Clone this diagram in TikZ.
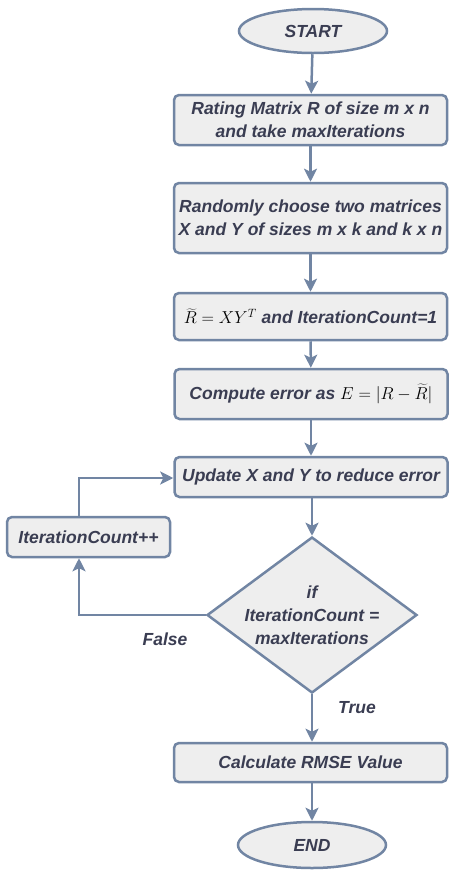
\documentclass[tikz,border=0pt]{standalone}
\usepackage{fontspec}
\setmainfont{Liberation Sans}
\usetikzlibrary{shapes.geometric,arrows.meta}
\definecolor{edge}{HTML}{7185A3}
\definecolor{boxfill}{HTML}{EEEEEE}
\definecolor{txt}{HTML}{3A3D52}
\begin{document}
\begin{tikzpicture}[x=1pt,y=-1pt,
  every node/.style={font=\fontsize{17.5}{23}\selectfont\bfseries\itshape, text=txt},
  procbox/.style={draw=edge, line width=2.5pt, fill=boxfill, rounded corners=5pt, minimum width=273pt, inner sep=0pt, align=center},
  term/.style={draw=edge, line width=2.5pt, fill=boxfill, ellipse, minimum width=148pt, minimum height=44pt, inner sep=0pt},
  decision/.style={draw=edge, line width=2.5pt, fill=boxfill, diamond, minimum width=210pt, minimum height=156pt, inner sep=0pt},
  flow/.style={draw=edge, line width=2.5pt, -{Stealth[width=13pt,length=13pt,inset=3pt]}},
  lbl/.style={font=\fontsize{17.5}{20}\selectfont\bfseries\itshape, text=txt}]
\useasboundingbox (0,0) rectangle (449,871);
\node[term] (start) at (313,31) {START};
\node[procbox, minimum height=50pt] (b1) at (310.5,120) {Rating Matrix R of size m x n\\and take maxIterations};
\node[procbox, minimum height=70pt] (b2) at (310.5,218) {Randomly choose two matrices\\X and Y of sizes m x k and k x n};
\node[procbox, minimum height=47pt] (b3) at (310.5,316.5) {\normalfont\color{black}$\widetilde{R}=XY^T$ \bfseries\itshape\color{txt}and IterationCount=1};
\node[procbox, minimum height=50pt] (b4) at (311,394) {Compute error as \normalfont\color{black}$E=|R-\widetilde{R}|$};
\node[procbox, minimum height=40pt] (b5) at (311,477) {Update X and Y to reduce error};
\node[procbox, minimum width=163pt, minimum height=40pt] (inc) at (88.5,537) {IterationCount++};
\node[decision] (dec) at (312,615) {};
\node[align=center, inner sep=0pt] (dectext) at (dec.center) {if\\IterationCount =\\maxIterations};
\node[procbox, minimum height=39pt] (b6) at (310.5,762.5) {Calculate RMSE Value};
\node[term, minimum height=46pt] (stop) at (312,845) {END};
\node[lbl] (false) at (165,639) {False};
\node[lbl] (true) at (357,708) {True};
\coordinate (cornerA) at (79,615);
\coordinate (cornerB) at (79,478);
\draw[flow] (start) -- (b1);
\draw[flow] (b1) -- (b2);
\draw[flow] (b2) -- (b3);
\draw[flow] (b3) -- (b4);
\draw[flow] (b4) -- (b5);
\draw[flow] (b5.south -| dec.north) -- (dec.north);
\draw[flow] (dec.west) -- (cornerA) -- (cornerA |- inc.south);
\draw[flow] (cornerB |- inc.north) -- (cornerB) -- (b5.west |- cornerB);
\draw[flow] (dec.south) -- (dec.south |- b6.north);
\draw[flow] (b6.south -| stop.north) -- (stop.north);
\end{tikzpicture}
\end{document}
